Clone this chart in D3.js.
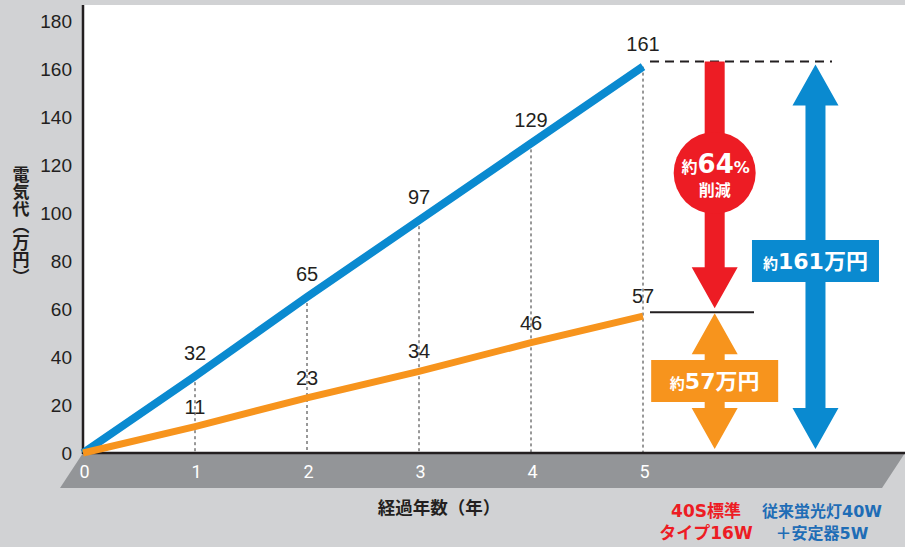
<!DOCTYPE html>
<html>
<head>
<meta charset="utf-8">
<script src="https://cdn.jsdelivr.net/npm/d3@7"></script>
<style>
  body { margin: 0; background: #d1d2d4; }
  svg { display: block; }
  .num { font-family: "Liberation Sans", Arial, sans-serif; fill: #231f20; }
  .jp { font-family: "Noto Sans CJK JP", sans-serif; font-weight: 700; }
  .wide { font-family: "DejaVu Sans", "Noto Sans CJK JP", sans-serif; font-weight: 700; }
</style>
</head>
<body>
<svg id="chart" width="905" height="547"></svg>
<script>
// data
const years = [0, 1, 2, 3, 4, 5];
const fluorescentCost = [0, 32, 65, 97, 129, 161]; // 従来蛍光灯40W＋安定器5W
const ledCost = [0, 11, 23, 34, 46, 57];           // 40S標準タイプ16W
const yTicks = [0, 20, 40, 60, 80, 100, 120, 140, 160, 180];
const totalOld = 161, totalNew = 57, savedPct = 64;

const BLUE = "#0a8ad0", ORANGE = "#f7941d", RED = "#ed1c24", INK = "#231f20";

const W = 905, H = 547;
const m = { top: 5, left: 83, bottom: 94 };
const svg = d3.select("#chart");

const x = d3.scaleLinear().domain([0, 5]).range([m.left, 643]);
const y = d3.scaleLinear().domain([0, 180]).range([H - m.bottom, 21]);
const y0 = y(0);

// white plot area + grey floor band
svg.append("rect").attr("x", m.left).attr("y", m.top).attr("width", W - m.left).attr("height", y0 - m.top).attr("fill", "#fff");
svg.append("path")
  .attr("d", `M${m.left},${y0} L${W},${y0} L${W - 23},${y0 + 35} L${m.left - 23},${y0 + 35} Z`)
  .attr("fill", "#939598");

// y axis
const yAxis = svg.append("g").attr("transform", `translate(${m.left},0)`)
  .call(d3.axisLeft(y).tickValues(yTicks).tickSize(0).tickPadding(11));
yAxis.select(".domain").remove();
yAxis.selectAll("text").attr("class", "num").style("font-size", "19px").attr("fill", INK);

// x axis (white labels on the floor)
const xAxis = svg.append("g").attr("transform", `translate(1,${y0})`)
  .call(d3.axisBottom(x).tickValues(years).tickFormat(d3.format("d")).tickSize(0).tickPadding(12));
xAxis.select(".domain").remove();
xAxis.selectAll("text")
  .style("font-family", "Roboto, sans-serif")
  .style("font-size", "18px").attr("fill", "#fff");

// dotted drop lines from each point to the floor
svg.append("g").selectAll("line").data(years.filter((d) => d > 0)).join("line")
  .attr("x1", (d) => x(d)).attr("x2", (d) => x(d))
  .attr("y1", (d, i) => y(fluorescentCost[i + 1])).attr("y2", y0)
  .attr("stroke", "#333").attr("stroke-width", 1).attr("stroke-dasharray", "3,3");

// axis lines
svg.append("line").attr("x1", m.left).attr("x2", m.left).attr("y1", m.top).attr("y2", y0 + 1)
  .attr("stroke", INK).attr("stroke-width", 2.5);
svg.append("line").attr("x1", m.left).attr("x2", W).attr("y1", y0).attr("y2", y0)
  .attr("stroke", INK).attr("stroke-width", 2.5);

// series lines
const line = d3.line().x((d, i) => x(years[i])).y((d) => y(d));
svg.append("path").datum(fluorescentCost).attr("d", line).attr("fill", "none").attr("stroke", BLUE).attr("stroke-width", 8);
svg.append("path").datum(ledCost).attr("d", line).attr("fill", "none").attr("stroke", ORANGE).attr("stroke-width", 7);

// value labels
function valueLabels(values, offset) {
  svg.append("g").selectAll("text").data(values.slice(1)).join("text")
    .attr("class", "num").style("font-size", "20px").attr("text-anchor", "middle")
    .attr("x", (d, i) => x(years[i + 1])).attr("y", (d) => y(d) - offset).text((d) => d);
}
valueLabels(fluorescentCost, 16);
valueLabels(ledCost, 13);

// axis titles
svg.append("text").attr("class", "jp").attr("x", 439).attr("y", 514).attr("text-anchor", "middle")
  .style("font-size", "17.5px").attr("fill", INK).text("経過年数（年）");
svg.append("text").attr("class", "jp").attr("x", 21).attr("y", 166)
  .style("writing-mode", "vertical-rl").style("font-size", "17px").attr("fill", INK).text("電気代（万円）");

// comparison annotations on the right
const redX = x(5.64), blueX = x(6.54);
const topY = y(totalOld) - 5, midY = y(totalNew) - 4;

svg.append("line").attr("x1", 650).attr("x2", 832).attr("y1", topY).attr("y2", topY)
  .attr("stroke", INK).attr("stroke-width", 2).attr("stroke-dasharray", "9,6");
svg.append("line").attr("x1", 650).attr("x2", 754).attr("y1", midY).attr("y2", midY)
  .attr("stroke", INK).attr("stroke-width", 2);

// vertical arrow polygon; heads at the ends that are flagged
function arrow(cx, yTop, yBot, color, headTop, headBot) {
  const s = 10, hw = 23, hh = 41;
  const pts = [];
  if (headTop) pts.push([cx, yTop], [cx + hw, yTop + hh], [cx + s, yTop + hh]);
  else pts.push([cx + s, yTop]);
  if (headBot) pts.push([cx + s, yBot - hh], [cx + hw, yBot - hh], [cx, yBot], [cx - hw, yBot - hh], [cx - s, yBot - hh]);
  else pts.push([cx + s, yBot], [cx - s, yBot]);
  if (headTop) pts.push([cx - s, yTop + hh], [cx - hw, yTop + hh]);
  else pts.push([cx - s, yTop]);
  svg.append("polygon").attr("points", pts.map((p) => p.join(",")).join(" ")).attr("fill", color);
}
arrow(redX, topY, midY - 4, RED, false, true);
arrow(redX, midY + 1, y0 - 4, ORANGE, true, true);
arrow(blueX, topY + 3, y0 - 4, BLUE, true, true);

// red reduction badge
const cy = y(116.7);
svg.append("circle").attr("cx", redX).attr("cy", cy).attr("r", 41).attr("fill", RED);
const pct = svg.append("text").attr("x", redX + 1).attr("y", cy).attr("text-anchor", "middle").attr("fill", "#fff");
pct.append("tspan").attr("class", "jp").style("font-size", "16px").text("約");
pct.append("tspan").attr("class", "wide").style("font-size", "26px").text(savedPct);
pct.append("tspan").attr("class", "wide").style("font-size", "16px").text("%");
svg.append("text").attr("class", "jp").attr("x", redX).attr("y", cy + 23).attr("text-anchor", "middle")
  .attr("fill", "#fff").style("font-size", "16px").text("削減");

// amount boxes
function amountBox(cx, cyv, color, value) {
  svg.append("rect").attr("x", cx - 63.5).attr("y", y(cyv) - 21).attr("width", 127).attr("height", 42).attr("fill", color);
  const t = svg.append("text").attr("x", cx).attr("y", y(cyv) + 8).attr("text-anchor", "middle").attr("fill", "#fff");
  t.append("tspan").attr("class", "jp").style("font-size", "15px").text("約");
  t.append("tspan").attr("class", "wide").style("font-size", "22px").text(value);
  t.append("tspan").attr("class", "jp").style("font-size", "22px").text("万円");
}
amountBox(redX, 30, ORANGE, totalNew);
amountBox(blueX, 80, BLUE, totalOld);

// legend under the arrows
function legendText(cx, color, size, lines) {
  lines.forEach((s, i) => {
    svg.append("text").attr("class", "wide").attr("x", cx).attr("y", 517 + i * 22).attr("text-anchor", "middle")
      .attr("fill", color).style("font-size", size + "px").text(s);
  });
}
legendText(706, RED, 17, ["40S標準", "タイプ16W"]);
legendText(822, "#1f6db6", 16, ["従来蛍光灯40W", "＋安定器5W"]);
</script>
</body>
</html>
